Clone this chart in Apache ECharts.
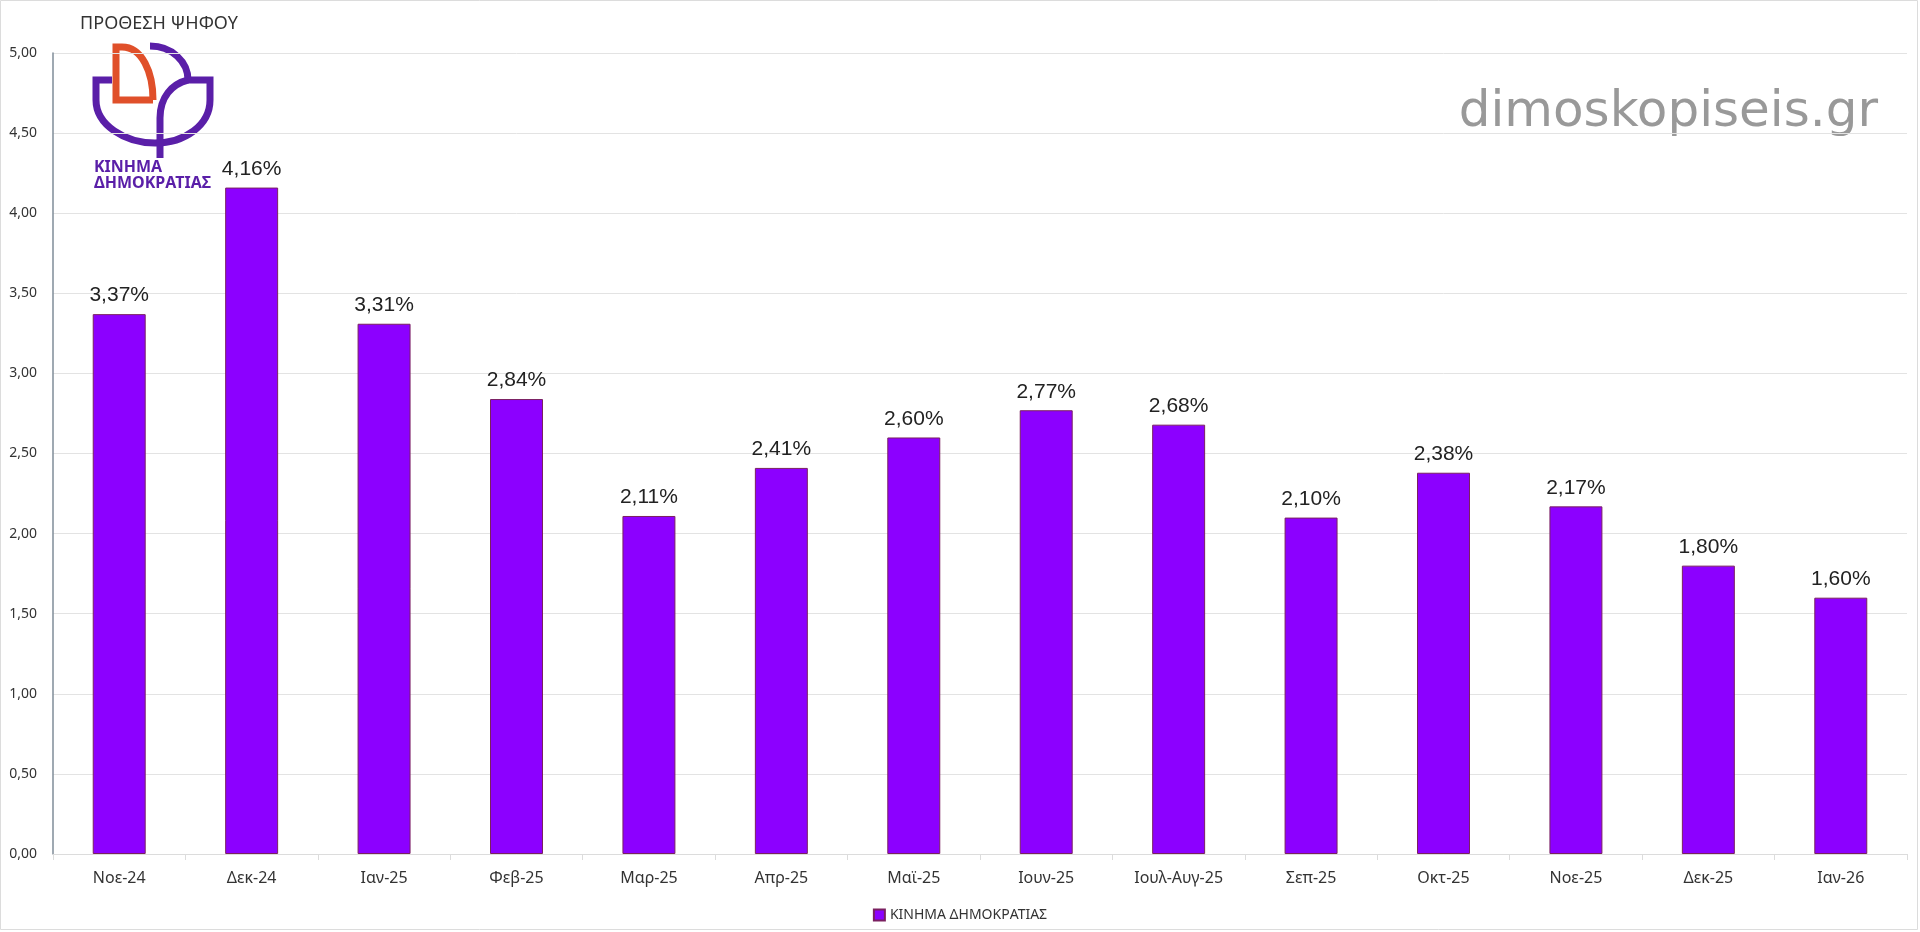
<!DOCTYPE html>
<html>
<head>
<meta charset="utf-8">
<script src="https://cdn.jsdelivr.net/npm/echarts@6/dist/echarts.min.js"></script>
<style>html,body{margin:0;padding:0;background:#fff;}#c{width:1920px;height:932px;}</style>
</head>
<body>
<div id="c"></div>
<script>
const categories = ['Νοε-24','Δεκ-24','Ιαν-25','Φεβ-25','Μαρ-25','Απρ-25','Μαϊ-25','Ιουν-25','Ιουλ-Αυγ-25','Σεπ-25','Οκτ-25','Νοε-25','Δεκ-25','Ιαν-26'];
const values = [3.37, 4.16, 3.31, 2.84, 2.11, 2.41, 2.60, 2.77, 2.68, 2.10, 2.38, 2.17, 1.80, 1.60];
const seriesName = 'ΚΙΝΗΜΑ ΔΗΜΟΚΡΑΤΙΑΣ';
const titleText = 'ΠΡΟΘΕΣΗ ΨΗΦΟΥ';
const watermark = 'dimoskopiseis.gr';

const chart = echarts.init(document.getElementById('c'));
const purple = '#5a1fa8', orange = '#e0502a';
const lw = 7;
function poly(pts, c) { return { type: 'polyline', shape: { points: pts }, style: { fill: 'none', stroke: c, lineWidth: lw, lineJoin: 'miter' }, silent: true }; }
function bz(x1, y1, cx1, cy1, cx2, cy2, x2, y2, c) {
  return { type: 'bezierCurve', shape: { x1, y1, x2, y2, cpx1: cx1, cpy1: cy1, cpx2: cx2, cpy2: cy2 }, style: { fill: 'none', stroke: c, lineWidth: lw }, silent: true };
}
chart.setOption({
  animation: false,
  backgroundColor: '#fff',
  grid: { left: 53, right: 13, top: 53, bottom: 78, containLabel: false },
  legend: {
    data: [seriesName], top: 903, left: 'center',
    icon: 'rect', itemWidth: 11, itemHeight: 11, itemGap: 5,
    textStyle: { fontFamily: 'Noto Sans', fontSize: 14, color: '#333' }
  },
  xAxis: {
    type: 'category', data: categories,
    axisLine: { lineStyle: { color: '#dcdcdc' } },
    axisTick: { show: true, length: 6, lineStyle: { color: '#dcdcdc' } },
    axisLabel: { fontFamily: 'Noto Sans', fontSize: 16, color: '#333', margin: 16 }
  },
  yAxis: {
    type: 'value', min: 0, max: 5, interval: 0.5,
    axisLine: { show: true, lineStyle: { color: '#7f8c99', width: 1.5 } },
    splitLine: { lineStyle: { color: '#e3e3e3' } },
    axisLabel: { fontFamily: 'Noto Sans', fontSize: 14, color: '#333', margin: 16,
      formatter: v => v.toFixed(2).replace('.', ',') }
  },
  series: [{
    name: seriesName, type: 'bar', data: values, barWidth: '40%',
    itemStyle: { color: '#8c00ff', borderColor: '#7a2060', borderWidth: 1 },
    label: { show: true, position: 'top', distance: 8,
      fontFamily: 'Liberation Sans', fontSize: 21, color: '#222',
      formatter: p => p.value.toFixed(2).replace('.', ',') + '%' }
  }],
  graphic: [
    { type: 'rect', shape: { x: 0.5, y: 0.5, width: 1917, height: 929 }, style: { fill: 'none', stroke: '#dcdcdc', lineWidth: 1 }, silent: true },
    { type: 'text', x: 159, y: 24, style: { text: titleText, fontFamily: 'Noto Sans', fontSize: 18, fill: '#333', align: 'center', verticalAlign: 'middle' } },
    { type: 'text', x: 1878, y: 113, style: { text: watermark, fontFamily: 'DejaVu Sans', fontSize: 50, fill: '#999999', align: 'right', verticalAlign: 'middle' } },
    poly([[153,100],[116,100],[116,47],[122,47]], orange),
    bz(122,47, 142,47, 153,72, 153,100, orange),
    poly([[112,80],[96,80],[96,100]], purple),
    bz(96,100, 96,125, 125,143, 155,143, purple),
    bz(155,143, 185,143, 210,125, 210,100, purple),
    poly([[210,100],[210,80],[188,80]], purple),
    bz(150,46, 172,46, 188,62, 188,80, purple),
    bz(188,80, 172,84, 160,97, 160,118, purple),
    poly([[160,118],[160,158]], purple),
    { type: 'text', x: 94, y: 167, style: { text: 'ΚΙΝΗΜΑ', fontFamily: 'Noto Sans', fontWeight: 'bold', fontSize: 16, fill: purple, verticalAlign: 'middle' } },
    { type: 'text', x: 94, y: 183, style: { text: 'ΔΗΜΟΚΡΑΤΙΑΣ', fontFamily: 'Noto Sans', fontWeight: 'bold', fontSize: 16, fill: purple, verticalAlign: 'middle' } }
  ]
});
</script>
</body>
</html>
